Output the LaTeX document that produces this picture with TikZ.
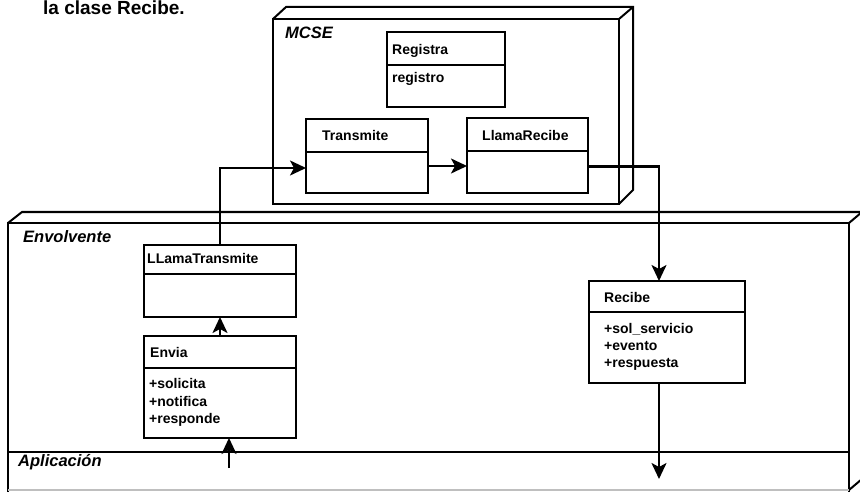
\documentclass[tikz,border=0pt]{standalone}
\usepackage{fontspec}
\setmainfont{Liberation Sans}
\usetikzlibrary{arrows.meta}
\tikzset{
  cls/.style={draw, line width=1.8pt, rectangle, inner sep=0pt, outer sep=0pt, fill=white},
  sepline/.style={line width=1.6pt},
  pkgline/.style={line width=2pt, line join=miter},
  txt/.style={font=\fontsize{14}{16}\selectfont\bfseries, anchor=base west, inner sep=0pt},
  pkglbl/.style={font=\fontsize{16.5}{18}\selectfont\bfseries\itshape, anchor=base west, inner sep=0pt},
  arr/.style={line width=2.1pt, -{Stealth[length=16pt,width=15pt,inset=4pt]}},
}
\begin{document}
\begin{tikzpicture}[x=1pt,y=-1pt]
\useasboundingbox (0,0) rectangle (860,492);
\clip (0,0) rectangle (860,492);
\fill[white] (0,0) rectangle (860,492);

% top caption
\node[font=\fontsize{19}{21}\selectfont\bfseries, anchor=base west, inner sep=0pt] (cap) at (43,14.5) {la clase Recibe.};

% MCSE package
\draw[pkgline] (273,19) rectangle (619,204);
\draw[pkgline] (273,19) -- (286,7) -- (633,7) -- (633,190) -- (619,204);
\draw[pkgline] (619,19) -- (633,7);
\node[pkglbl] (mcse) at (285,39) {MCSE};

% Envolvente package
\draw[pkgline] (8,492) -- (8,223) -- (849,223) -- (849,492);
\draw[pkgline] (8,223) -- (22,212) -- (875,212);
\draw[pkgline] (849,223) -- (862,212);
\draw[pkgline] (849,490) -- (862,479);
\draw[line width=1.2pt, black!25] (8,490) -- (849,490);
\draw[pkgline] (8,452) -- (849,452);
\node[pkglbl] (env) at (23,242) {Envolvente};
\node[pkglbl] (apl) at (18,466) {Aplicación};

% classes
\node[cls, minimum width=118pt, minimum height=75pt] (registra) at (446,69.5) {};
\draw[sepline] (registra.west |- 0,65) -- (registra.east |- 0,65);
\node[txt] (registraT) at (392,55) {Registra};
\node[txt] (registraA) at (392,83) {registro};

\node[cls, minimum width=122pt, minimum height=74pt] (transmite) at (367,156) {};
\draw[sepline] (transmite.west |- 0,152) -- (transmite.east |- 0,152);
\node[txt] (transmiteT) at (322,141) {Transmite};

\node[cls, minimum width=121pt, minimum height=75pt] (llrecibe) at (527.5,155.5) {};
\draw[sepline] (llrecibe.west |- 0,151) -- (llrecibe.east |- 0,151);
\node[txt] (llrecibeT) at (482,141) {LlamaRecibe};

\node[cls, minimum width=152pt, minimum height=72pt] (lltx) at (220,281) {};
\draw[sepline] (lltx.west |- 0,274) -- (lltx.east |- 0,274);
\node[txt] (lltxT) at (147,263) {LLamaTransmite};

\node[cls, minimum width=152pt, minimum height=102pt] (envia) at (220,387) {};
\draw[sepline] (envia.west |- 0,368) -- (envia.east |- 0,368);
\node[txt] (enviaT) at (150,357) {Envia};
\node[txt] (enviaA1) at (149,388) {+solicita};
\node[txt] (enviaA2) at (149,406) {+notifica};
\node[txt] (enviaA3) at (149,423) {+responde};

\node[cls, minimum width=156pt, minimum height=102pt] (recibe) at (667,332) {};
\draw[sepline] (recibe.west |- 0,312) -- (recibe.east |- 0,312);
\node[txt] (recibeT) at (604,302) {Recibe};
\node[txt] (recibeA1) at (604,333) {+sol\_servicio};
\node[txt] (recibeA2) at (604,350) {+evento};
\node[txt] (recibeA3) at (604,367) {+respuesta};

% connectors
\coordinate (apIn) at (229,468);
\coordinate (outR) at (659,479);
\draw[arr] (lltx.north) |- ([yshift=-12pt]transmite.west);
\draw[arr] ([yshift=-10pt]transmite.east) -- ([yshift=-10.5pt]llrecibe.west);
\draw[arr] ([yshift=-11pt]llrecibe.east) -| ([xshift=-8pt]recibe.north);
\draw[arr] ([xshift=-8pt]recibe.south) -- (outR);
\draw[arr] (envia.north) -- (lltx.south);
\draw[arr] (apIn) -- ([xshift=9pt]envia.south);
\end{tikzpicture}
\end{document}
